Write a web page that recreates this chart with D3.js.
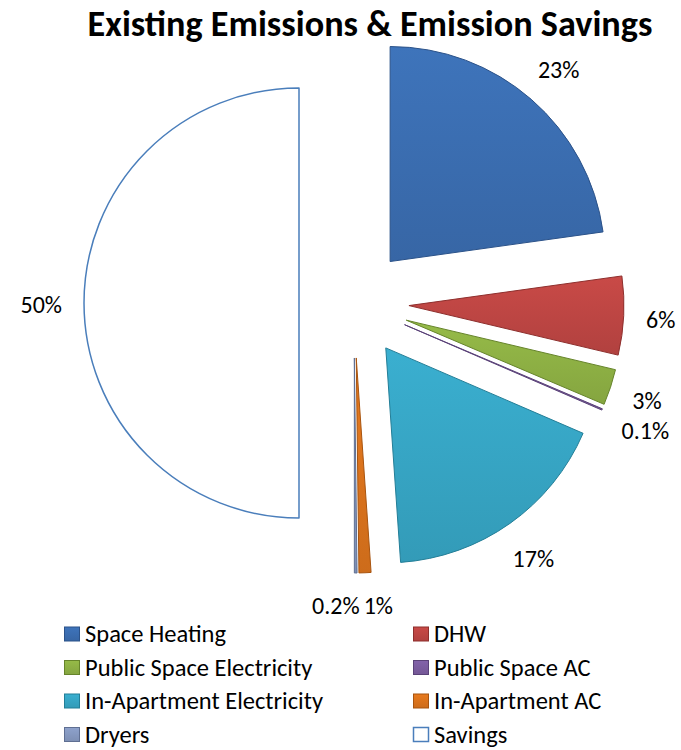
<!DOCTYPE html>
<html>
<head>
<meta charset="utf-8">
<script src="https://cdn.jsdelivr.net/npm/d3@7"></script>
<style>
  body { margin: 0; background: #fff; }
  text { font-family: Carlito, Calibri, "Open Sans", sans-serif; }
</style>
</head>
<body>
<div id="chart"></div>
<script>
// slice names, shares (%) and colours
const categories = ["Space Heating", "DHW", "Public Space Electricity", "Public Space AC",
    "In-Apartment Electricity", "In-Apartment AC", "Dryers", "Savings"];
const shares = [22.8, 5.9, 2.7, 0.1, 17.4, 0.9, 0.2, 50];
const colors = ["#3a6cae", "#bb4542", "#8cae43", "#7a5c9e", "#36a3c2", "#d8721c", "#8497be", "#ffffff"];
const strokes = ["#2b5289", "#8e2f2d", "#66842b", "#5a4278", "#237e97", "#a8540f", "#5f6f92", "#4a7ebb"];

const chartTitle = "Existing Emissions & Emission Savings";

function createPie() {
    var width = 681, height = 750;
    var cx = 354, cy = 303;
    var radius = 215;
    var explode = 55;
    var labelGap = 292;

    var data = categories.map((c, i) => ({name: c, value: shares[i], color: colors[i], stroke: strokes[i], i: i}));

    var pie = d3.pie()
        .sort(null)
        .value(d => d.value)
        .startAngle(0)
        .endAngle(2 * Math.PI);

    var arc = d3.arc().innerRadius(0).outerRadius(radius);

    var svg = d3.select("#chart")
        .append("svg")
            .attr("width", width)
            .attr("height", height)
            .attr("viewBox", [0, 0, width, height]);

    var defs = svg.append("defs");
    data.forEach(d => {
        var g = defs.append("linearGradient")
            .attr("id", "grad" + d.i)
            .attr("x1", 0).attr("y1", 0).attr("x2", 0).attr("y2", 1);
        g.append("stop").attr("offset", "0%").attr("stop-color", d3.color(d.color).brighter(0.2));
        g.append("stop").attr("offset", "100%").attr("stop-color", d3.color(d.color).darker(0.15));
    });

    // title, fitted to the width it has in the picture
    var title = svg.append("text")
        .attr("x", 370)
        .attr("y", 36)
        .attr("text-anchor", "middle")
        .attr("font-weight", "bold")
        .attr("font-size", 30)
        .text(chartTitle);
    var tw = title.node().getComputedTextLength();
    title.attr("font-size", 30 * 565 / tw);

    var arcs = pie(data);
    var mid = a => (a.startAngle + a.endAngle) / 2;

    var slices = svg.append("g")
        .attr("transform", `translate(${cx},${cy})`);

    slices.selectAll("path")
        .data(arcs)
        .join("path")
            .attr("transform", a => `translate(${explode * Math.sin(mid(a))},${-explode * Math.cos(mid(a))})`)
            .attr("d", arc)
            .attr("fill", a => a.data.name === "Savings" ? "#fff" : `url(#grad${a.data.i})`)
            .attr("stroke", a => a.data.stroke)
            .attr("stroke-width", a => a.data.name === "Savings" ? 1.5 : 1)
            .attr("stroke-linejoin", "round");

    // data labels: the label box sits just outside the slice along its mid angle
    var fmt = v => (v < 0.5 ? v.toFixed(1) : Math.round(v)) + "%";
    var labels = svg.append("g")
        .attr("font-size", 24)
        .attr("fill", "#000")
        .selectAll("text")
        .data(arcs)
        .join("text")
            .attr("text-anchor", "middle")
            .attr("dy", "0.35em")
            .text(a => fmt(a.data.value));

    labels.each(function(a) {
        var w = this.getComputedTextLength(), h = 16;
        var m = mid(a);
        var r = labelGap + Math.abs(Math.sin(m)) * w / 2 + Math.abs(Math.cos(m)) * h / 2;
        d3.select(this)
            .attr("x", cx + r * Math.sin(m))
            .attr("y", cy + 2 - r * Math.cos(m));
    });

    // push apart labels that collide: sideways at the bottom, up/down at the sides
    var nodes = labels.nodes();
    for (var i = 0; i < nodes.length; i++) {
        for (var j = i + 1; j < nodes.length; j++) {
            var a = nodes[i].getBBox(), b = nodes[j].getBBox();
            var ox = Math.min(a.x + a.width, b.x + b.width) - Math.max(a.x, b.x);
            var oy = Math.min(a.y + a.height, b.y + b.height) - Math.max(a.y, b.y);
            if (ox > 0 && oy > 0) {
                var si = d3.select(nodes[i]), sj = d3.select(nodes[j]);
                if (Math.abs(Math.sin(mid(arcs[i]))) < 0.5) {
                    var sx = (ox + 4) / 2;
                    si.attr("x", +si.attr("x") + sx - 4);
                    sj.attr("x", +sj.attr("x") - sx - 4);
                } else {
                    var sy = (oy + 1) / 2;
                    si.attr("y", +si.attr("y") - sy);
                    sj.attr("y", +sj.attr("y") + sy);
                }
            }
        }
    }

    // legend
    var legend = svg.append("g")
        .attr("font-size", 24.5);
    var item = legend.selectAll("g")
        .data(data)
        .join("g")
            .attr("transform", (d, i) => `translate(${i % 2 ? 413 : 64},${634 + Math.floor(i / 2) * 33.5})`);
    item.append("rect")
        .attr("x", 0.5).attr("y", -7)
        .attr("width", 15).attr("height", 14)
        .attr("fill", d => d.name === "Savings" ? "#fff" : `url(#grad${d.i})`)
        .attr("stroke", d => d.stroke)
        .attr("stroke-width", d => d.name === "Savings" ? 1.5 : 1);
    item.append("text")
        .attr("x", 21)
        .attr("dy", "0.33em")
        .text(d => d.name);
}

createPie();
</script>
</body>
</html>
